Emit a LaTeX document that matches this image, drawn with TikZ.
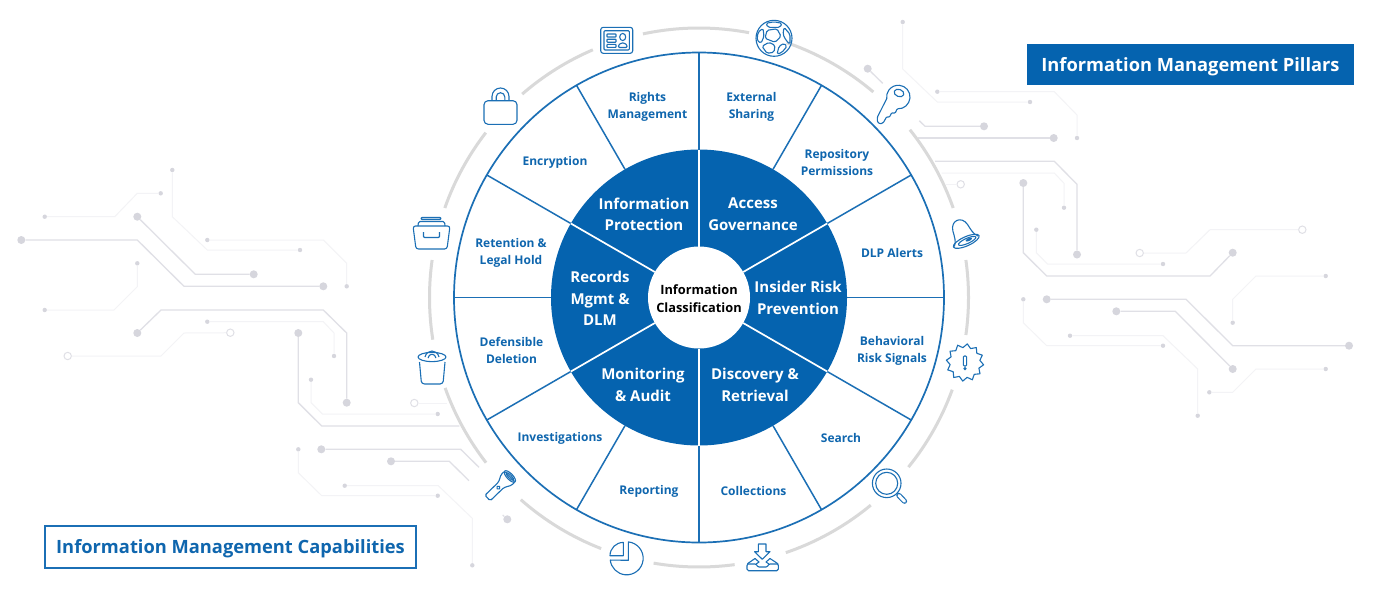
\documentclass[tikz,border=0pt]{standalone}
\usepackage{fontspec}
\setmainfont{Open Sans}
\usetikzlibrary{positioning,shapes.geometric}
\definecolor{pillar}{HTML}{0563AF}
\definecolor{rim}{HTML}{1B6FB5}
\definecolor{ink}{HTML}{0F66AE}
\definecolor{halo}{HTML}{D9D9D9}
\definecolor{fatc}{HTML}{E0E0E6}
\definecolor{thinc}{HTML}{F3F3F6}
\definecolor{dotc}{HTML}{D6D6DD}
\newcommand{\fsz}[1]{\fontsize{#1}{#1}\selectfont}

\begin{document}
\begin{tikzpicture}[
  x=1pt,y=-1pt,
  fat/.style={draw=fatc,line width=1.3pt},
  slim/.style={draw=thinc,line width=1pt},
  bigdot/.style={circle,fill=dotc,inner sep=0pt,minimum size=8pt},
  tinydot/.style={circle,fill=dotc,inner sep=0pt,minimum size=4.4pt},
  ringdot/.style={circle,draw=fatc,fill=white,line width=1pt,inner sep=0pt,minimum size=7.4pt},
  arcgray/.style={draw=halo,line width=3pt},
  spoke/.style={draw=rim,line width=1.5pt},
  wspoke/.style={draw=white,line width=1.7pt},
  lbl/.style={text=ink,font=\bfseries\fsz{12},align=center,inner sep=0pt,yshift=-.6pt},
  core/.style={text=white,font=\bfseries\fsz{15},align=center,inner sep=0pt,yshift=-.8pt},
  ico/.style={draw=rim,line width=1.1pt,line join=round}
    ]
    \useasboundingbox[fill=white] (0,0) rectangle (1399,595);

    % left circuit
    \node[tinydot] (a1) at (44.7,216.7) {};
    \node[tinydot] (a2) at (160.7,193.3) {};
    \draw[slim] (a1) -- (114.7,216.7) -- (137.3,193.3) -- (a2);
    \node[tinydot] (b1) at (172.3,170) {};
    \node[tinydot] (b2) at (300,250) {};
    \draw[slim] (b1) -- (172.3,216.7) -- (207.3,250) -- (b2);
    \node[tinydot] (c1) at (207.3,240) {};
    \node[tinydot] (c2) at (346.7,286.3) {};
    \draw[slim] (c1) -- (323.3,240) -- (346.7,263.3) -- (c2);
    \node[bigdot] (d1) at (137.3,216.7) {};
    \node[bigdot] (d2) at (253.7,274.3) {};
    \draw[fat] (d1) -- (195.3,274.3) -- (d2);
    \node[bigdot] (e1) at (21.3,240) {};
    \node[bigdot] (e2) at (323.3,286.3) {};
    \draw[fat] (e1) -- (137.3,240) -- (184,286.3) -- (e2);
    \node[tinydot] (f1) at (137.3,263.3) {};
    \node[tinydot] (f2) at (44.7,310) {};
    \draw[slim] (f1) -- (137.3,286.7) -- (114,310) -- (f2);
    \node[bigdot] (g1) at (137.3,333) {};
    \node[bigdot] (g2) at (346.7,402.7) {};
    \draw[fat] (g1) -- (161,310) -- (323.3,310) -- (346.7,333) -- (g2);
    \node[tinydot] (h1) at (207.3,321.7) {};
    \node[tinydot] (h2) at (334,356) {};
    \draw[slim] (h1) -- (323.3,321.7) -- (334,333) -- (h2);
    \node[ringdot] (i1) at (67.7,356) {};
    \node[ringdot] (i2) at (230.3,332.7) {};
    \draw[slim] (i1) -- (161,356) -- (184,333) -- (i2);
    \node[bigdot] (j1) at (298.3,333) {};
    \coordinate (j2) at (459.3,426);
    \draw[fat] (j1) -- (298.3,402.7) -- (321.7,426) -- (j2);
    \node[tinydot] (k1) at (311,379.7) {};
    \node[tinydot] (k2) at (437.7,414) {};
    \draw[slim] (k1) -- (311,402.7) -- (322.3,414) -- (k2);
    \node[ringdot] (l1) at (414.3,403) {};
    \coordinate (l2) at (446.7,403);
    \draw[slim] (l1) -- (l2);
    \node[bigdot] (m1) at (321.3,449.3) {};
    \coordinate (m2) at (479,467.3);
    \draw[fat] (m1) -- (460.7,449.3) -- (m2);
    \node[bigdot] (n1) at (391,461.3) {};
    \coordinate (n2) at (469,480.7);
    \draw[fat] (n1) -- (449.3,461.3) -- (n2);
    \node[tinydot] (o1) at (344.7,485.7) {};
    \node[tinydot] (o2) at (472.3,565.3) {};
    \draw[slim] (o1) -- (438.3,485.7) -- (472.3,518.3) -- (o2);
    \node[tinydot] (p1) at (298.3,449.3) {};
    \node[tinydot] (p2) at (437.7,495.7) {};
    \draw[slim] (p1) -- (298.3,472.7) -- (321.7,495.7) -- (p2);
    \node[bigdot] (q1) at (507.3,519.3) {};
    \coordinate (q2) at (502.7,515);
    \draw[fat] (q1) -- (q2);

    % right circuit
    \node[tinydot] (r1) at (902.7,22) {};
    \node[tinydot] (r2) at (1030,102) {};
    \draw[slim] (r1) -- (902.7,69) -- (937.3,102) -- (r2);
    \node[tinydot] (s1) at (937.3,91.7) {};
    \node[tinydot] (s2) at (1077,138) {};
    \draw[slim] (s1) -- (1054.3,91.7) -- (1077,115) -- (s2);
    \node[bigdot] (t1) at (984,126.3) {};
    \coordinate (t2) at (919.3,120.7);
    \draw[fat] (t1) -- (925,126.3) -- (t2);
    \node[bigdot] (u1) at (1053.7,138) {};
    \coordinate (u2) at (918.3,138);
    \draw[fat] (u1) -- (u2);
    \coordinate (v1) at (935,161.3);
    \node[bigdot] (v2) at (1077,254.5) {};
    \draw[fat] (v1) -- (1054.3,161.3) -- (1077,184.3) -- (v2);
    \coordinate (w1) at (941.7,173);
    \node[tinydot] (w2) at (1064,207.7) {};
    \draw[slim] (w1) -- (1054.3,173) -- (1064,183.3) -- (w2);
    \node[ringdot] (x1) at (960.7,184.3) {};
    \coordinate (x2) at (946,184.3);
    \draw[slim] (x1) -- (x2);
    \node[bigdot] (y1) at (1023.3,183) {};
    \node[bigdot] (y2) at (1232.7,252.7) {};
    \draw[fat] (y1) -- (1023.3,252.7) -- (1046.7,276) -- (1210,276) -- (y2);
    \node[tinydot] (z1) at (1036.3,229.7) {};
    \node[tinydot] (z2) at (1163,264) {};
    \draw[slim] (z1) -- (1036.3,252.7) -- (1047.5,264) -- (z2);
    \node[bigdot] (aa1) at (867.7,68.7) {};
    \coordinate (aa2) at (882.7,83.3);
    \draw[fat] (aa1) -- (aa2);
    \node[ringdot] (ab1) at (1139.7,253) {};
    \node[ringdot] (ab2) at (1302.3,229.7) {};
    \draw[slim] (ab1) -- (1186,253) -- (1210,229.7) -- (ab2);
    \node[tinydot] (ac1) at (1232.7,322.7) {};
    \node[tinydot] (ac2) at (1325.7,276) {};
    \draw[slim] (ac1) -- (1232.7,299.3) -- (1256,276) -- (ac2);
    \node[bigdot] (ad1) at (1046.7,299.3) {};
    \node[bigdot] (ad2) at (1349,345.7) {};
    \draw[fat] (ad1) -- (1186,299.3) -- (1232.7,345.7) -- (ad2);
    \node[bigdot] (ae1) at (1116.3,311.3) {};
    \node[bigdot] (ae2) at (1232.7,369) {};
    \draw[fat] (ae1) -- (1175.3,311.3) -- (ae2);
    \node[tinydot] (af1) at (1023.3,299.3) {};
    \node[tinydot] (af2) at (1163,345.7) {};
    \draw[slim] (af1) -- (1023.3,322.7) -- (1046.7,345.7) -- (af2);
    \node[tinydot] (ag1) at (1070,335.7) {};
    \node[tinydot] (ag2) at (1197.7,415.7) {};
    \draw[slim] (ag1) -- (1163,335.7) -- (1197.7,369) -- (ag2);
    \node[tinydot] (ah1) at (1209.3,392.3) {};
    \node[tinydot] (ah2) at (1325.7,369) {};
    \draw[slim] (ah1) -- (1232.7,392.3) -- (1256,369) -- (ah2);

    % wheel
    \coordinate (mid) at (699,297.5);
    \foreach \from/\upto in {79.3/102,113.2/131,142.3/160.6,172/189,199.6/217.8,228.6/248.7,260.3/277.6,288.8/309.6,321/340,352/368,379.4/398.5,409.7/431}
      \draw[arcgray] ([shift={(\from:269.5pt)}]mid) arc[start angle=\from,end angle=\upto,radius=269.5pt];
    \draw[rim,line width=1.7pt,fill=white] (mid) circle[radius=245pt];
    \fill[pillar] (mid) circle[radius=148pt];
    \foreach \a in {0,30,...,330}
      \draw[spoke] ([shift={(\a:148pt)}]mid) -- ([shift={(\a:245pt)}]mid);
    \foreach \a in {30,90,...,330}
      \draw[wspoke] ([shift={(\a:51pt)}]mid) -- ([shift={(\a:148pt)}]mid);
    \node[circle,fill=white,inner sep=0pt,minimum size=102pt] (hub) at (mid) {};
    \node[align=center,inner sep=0pt,font=\bfseries\fsz{12.8}] (cls) at (699,299) {Information\\[5.2pt]Classification};

    \node[core] (ip) at (644,213.5) {Information\\[6.5pt]Protection};
    \node[core] (ag) at (753,213.5) {Access\\[6.5pt]Governance};
    \node[core] (rm) at (600,297.5) {Records\\[6.5pt]Mgmt \&\\[6.5pt]DLM};
    \node[core] (ir) at (798,297) {Insider Risk\\[6.5pt]Prevention};
    \node[core] (ma) at (643,384) {Monitoring\\[6.5pt]\& Audit};
    \node[core] (dr) at (755,384) {Discovery \&\\[6.5pt]Retrieval};

    \node[lbl] (rights) at (647.5,106.5) {Rights\\[5pt]Management};
    \node[lbl] (ext) at (751.5,106.5) {External\\[5pt]Sharing};
    \node[lbl] (enc) at (555,161.5) {Encryption};
    \node[lbl] (repo) at (837,161.5) {Repository\\[5pt]Permissions};
    \node[lbl] (ret) at (511,252.5) {Retention \&\\[5pt]Legal Hold};
    \node[lbl] (dlp) at (892,252) {DLP Alerts};
    \node[lbl] (def) at (511.5,350) {Defensible\\[5pt]Deletion};
    \node[lbl] (beh) at (892,350) {Behavioral\\[5pt]Risk Signals};
    \node[lbl] (inv) at (560,437.5) {Investigations};
    \node[lbl] (sea) at (841,437.5) {Search};
    \node[lbl] (rep) at (649,490.5) {Reporting};
    \node[lbl] (col) at (753.5,490.5) {Collections};

    % title boxes
    \node[fill=pillar,text=white,font=\bfseries\fsz{18.3},text height=15pt,text depth=2pt,minimum width=327pt,minimum height=41pt,inner sep=0pt] (pillars) at (1190.5,64.5) {Information Management Pillars};
    \node[draw=rim,line width=1.3pt,fill=white,text=ink,font=\bfseries\fsz{18.3},text height=14.5pt,text depth=2.5pt,minimum width=371pt,minimum height=42pt,inner sep=0pt] (caps) at (230.5,547) {Information Management Capabilities};

    % icons
    \draw[ico,rounded corners=2.5pt] (413,226) -- (450,226) -- (447,249) -- (416,249) -- cycle;
    \draw[ico,rounded corners=1.5pt] (418,226) -- (418.5,221.5) -- (444.5,221.5) -- (445,226);
    \draw[ico,rounded corners=1pt] (421,217.5) rectangle (441,219.5);
    \draw[ico,rounded corners=1pt] (423.5,232) -- (423.5,237.5) -- (439.5,237.5) -- (439.5,232);

    \draw[ico] (432,357) ellipse[x radius=14pt,y radius=4.6pt];
    \draw[ico] (425,357) .. controls (427,349) and (437,349) .. (439,357);
    \draw[ico] (428,358) .. controls (429,353) and (435,353) .. (436,358);
    \draw[ico,rounded corners=3pt] (419.5,362) -- (421.5,384) -- (443,384) -- (445,362);

    \draw[ico,rounded corners=4pt] (484,100.7) rectangle (517,124.3);
    \draw[ico] (492,100.7) -- (492,96.5) arc[start angle=180,end angle=0,radius=8.5pt] -- (509,100.7);
    \draw[ico] (496.2,100.7) -- (496.2,97) arc[start angle=180,end angle=0,radius=4.3pt] -- (504.8,100.7);

    \draw[ico,rounded corners=2.5pt] (600.7,27.3) rectangle (632.7,53.3);
    \draw[ico,rounded corners=1pt] (604,30.7) rectangle (629.3,50);
    \foreach \yy in {34,39.2,44.4}
      \draw[ico,rounded corners=.5pt] (607,\yy) rectangle (616,\yy+3);
    \draw[ico] (622.7,37) ellipse[x radius=3pt,y radius=3.6pt];
    \draw[ico,rounded corners=1pt] (618.5,47.5) -- (618.5,45) -- (621.3,43) -- (624.1,43) -- (627,45) -- (627,47.5) -- cycle;

    \begin{scope}[shift={(774,38.3)},y=1pt,ico,rounded corners=1.6pt]
      \draw[rounded corners=0pt] (0,0) circle[radius=18pt];
      \draw (-8,15) -- (0,16.5) -- (8,15) -- (6,11) -- (-6,11) -- cycle;
      \draw (-7,8) -- (3,9.5) -- (7,2) -- (1,-4) -- (-9,0) -- cycle;
      \draw (10,11) -- (16,4) -- (16,-6) -- (12,-2) -- (9,4) -- cycle;
      \draw (13,-8) -- (8,-14) -- (3,-16) -- (5,-8) -- (10,-5) -- cycle;
      \draw (-16,6) -- (-11,10) -- (-10,2) -- (-13,-5) -- (-17,-2) -- cycle;
      \draw (-12,-8) -- (-5,-4) -- (1,-7) -- (0,-14) -- (-7,-15) -- cycle;
    \end{scope}

    \draw[ico] (897.3,108.6) arc[start angle=265,end angle=548,radius=11.7pt] [rounded corners=1pt] -- (877.3,117.3) -- (877.3,121.7) -- (880,124) -- (883.3,122.7) -- (886.7,116.7) -- (889.3,117.3) -- (891.7,112.7) -- (895,113.3) -- cycle;
    \draw[ico,rotate around={-20:(899,93)}] (899,93) ellipse[x radius=5pt,y radius=3.6pt];

    \begin{scope}[shift={(963,234)},rotate=24,y=1pt,ico]
      \draw (-13,-8) .. controls (-9,-4) and (-9,1) .. (-8,7) .. controls (-6,17.5) and (6,17.5) .. (8,7) .. controls (9,1) and (9,-4) .. (13,-8);
      \draw (0,-8) ellipse[x radius=14pt,y radius=4.6pt];
      \draw (1,-8) ellipse[x radius=9.5pt,y radius=2.6pt];
      \fill[rim] (3,-7.5) ellipse[x radius=3.5pt,y radius=1.4pt];
    \end{scope}

    \node[ico,star,star points=12,star point ratio=.8,minimum size=30pt,inner sep=0pt,rotate=8] (burst) at (965,362.5) {};
    \draw[ico,rounded corners=1pt] (963.4,356) rectangle (966.6,366);
    \fill[rim] (965,368.6) circle[radius=1.7pt];

    \draw[ico] (886.7,483.3) circle[radius=14.3pt];
    \draw[ico] (886.7,483.3) circle[radius=11pt];
    \draw[draw=rim,line width=1.1pt,double=white,double distance=3pt,line cap=round] (898.8,495.4) -- (904.5,501.2);

    \draw[ico] (758.3,544) -- (766,544) -- (766,551.7) -- (770,551.7) -- (762.3,559.3) -- (754.6,551.7) -- (758.3,551.7) -- cycle;
    \draw[ico,rounded corners=1.5pt] (755,558.5) -- (747,564) -- (747,570.7) -- (778.3,570.7) -- (778.3,564) -- (770,558.5);
    \draw[ico,rounded corners=1pt] (747,564) -- (756,564) -- (758,567) -- (767,567) -- (769,564) -- (778.3,564);
    \draw[ico] (755,558.5) -- (759,562) -- (756,564);
    \draw[ico] (770,558.5) -- (766,562) -- (769,564);

    \draw[ico] (628.4,541.9) arc[start angle=84,end angle=-174,radius=16.5pt] -- (628.3,560.3) -- cycle;
    \draw[ico] (623.3,555.7) -- ++(-13.3pt,0pt) arc[start angle=180,end angle=90,radius=13.3pt] -- cycle;

    \begin{scope}[shift={(500.5,485.5)},rotate=44,y=1pt,ico]
      \draw[rounded corners=1.5pt] (-18,-3.8) -- (1,-3.8) -- (8,-7.5) -- (13,-7.5) -- (13,7.5) -- (8,7.5) -- (1,3.8) -- (-18,3.8) -- cycle;
      \draw (13,0) ellipse[x radius=3pt,y radius=7.5pt];
      \draw (13,0) ellipse[x radius=1.6pt,y radius=5.2pt];
      \draw (-3,0) circle[radius=1.8pt];
    \end{scope}
    \end{tikzpicture}
\end{document}
